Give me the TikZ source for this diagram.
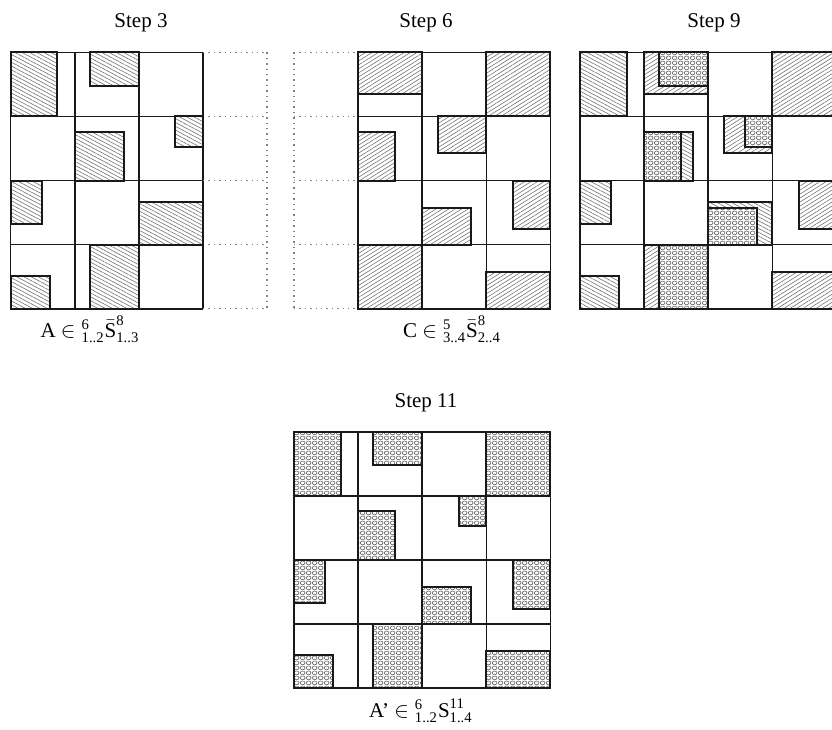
\documentclass[tikz,border=0pt]{standalone}
\usepackage{amsmath}
\usepackage{fontspec}
\setmainfont{Liberation Serif}
\usepackage{tikz}
\usetikzlibrary{patterns,patterns.meta}

% fine mesh used for the overlapping blocks
\tikzdeclarepattern{
  name=mesh,
  type=uncolored,
  bounding box={(0pt,0pt) and (3pt,2.5pt)},
  tile size={(3pt,2.5pt)},
  code={\draw[line width=0.35pt] (1.5pt,1.25pt) ellipse (1.35pt and 1.1pt);}
}

% blocks of A (cols 0..2) and of C (cols 1..3), in cell units
\def\blocksA{0/0/0.73/1, 1.24/0/2/0.525, 1/1.24/1.77/2, 2.57/1/3/1.47,
  0/2/0.49/2.675, 2/2.34/3/3, 0/3.485/0.61/4, 1.24/3/2/4}
\def\blocksC{1/0/2/0.655, 3/0/4/1, 1/1.24/1.58/2, 2.24/1/3/1.57,
  2/2.43/2.76/3, 3.42/2/4/2.76, 1/3/2/4, 3/3.42/4/4}
\def\blocksAC{1.24/0/2/0.525, 1/1.24/1.58/2, 2.57/1/3/1.47,
  2/2.43/2.76/3, 1.24/3/2/4}
\def\blocksAp{0/0/0.73/1, 1.24/0/2/0.525, 2.57/1/3/1.47, 0/2/0.49/2.675,
  0/3.485/0.61/4, 1.24/3/2/4, 3/0/4/1, 1/1.24/1.58/2, 2/2.43/2.76/3,
  3.42/2/4/2.76, 3/3.42/4/4}

\begin{document}
\begin{tikzpicture}[x=0.5pt,y=-0.5pt,font=\fontsize{10.5}{12.6}\selectfont,
  cellline/.style={line width=0.8pt,draw=black!90},
  ghostline/.style={line width=0.7pt,draw=black!50,dotted},
  ablk/.style={preaction={fill=white},draw=black!90,line width=1pt,
    pattern={Lines[angle=-28,distance=1.7pt,line width=0.3pt]},pattern color=black!55},
  cblk/.style={preaction={fill=white},draw=black!90,line width=1pt,
    pattern={Lines[angle=32,distance=1.7pt,line width=0.3pt]},pattern color=black!55},
  mblk/.style={preaction={fill=white},draw=black!90,line width=1pt,
    pattern=mesh,pattern color=black!60},
  panel/.style={x=32.05pt,y=-32.05pt}]

\useasboundingbox (0,0) rectangle (832,730);

% Step 3
\node (s3) at (141,23) {Step 3};
\begin{scope}[shift={(10.7,52.3)},panel]
  \foreach \i in {0,...,3} \draw[cellline] (\i,0) -- (\i,4);
  \foreach \j in {0,...,4} \draw[cellline] (0,\j) -- (3,\j);
  \foreach \j in {0,...,4} \draw[ghostline] (3,\j) -- (4,\j);
  \draw[ghostline] (4,0) -- (4,4);
  \foreach \xa/\ya/\xb/\yb in \blocksA \draw[ablk] (\xa,\ya) rectangle (\xb,\yb);
\end{scope}
\node (la) at (90,329) {A $\in{}^{\text{6}}_{\text{1..2}}\bar{\text{S}}^{\text{8}}_{\text{1..3}}$};

% Step 6
\node (s6) at (426,23) {Step 6};
\begin{scope}[shift={(294,52.3)},panel]
  \foreach \i in {1,...,4} \draw[cellline] (\i,0) -- (\i,4);
  \foreach \j in {0,...,4} \draw[cellline] (1,\j) -- (4,\j);
  \foreach \j in {0,...,4} \draw[ghostline] (0,\j) -- (1,\j);
  \draw[ghostline] (0,0) -- (0,4);
  \foreach \xa/\ya/\xb/\yb in \blocksC \draw[cblk] (\xa,\ya) rectangle (\xb,\yb);
\end{scope}
\node (lc) at (452,329) {C $\in{}^{\text{5}}_{\text{3..4}}\bar{\text{S}}^{\text{8}}_{\text{2..4}}$};

% Step 9
\node (s9) at (714,23) {Step 9};
\begin{scope}[shift={(580,52.3)},panel]
  \foreach \i in {0,...,4} \draw[cellline] (\i,0) -- (\i,4);
  \foreach \j in {0,...,4} \draw[cellline] (0,\j) -- (4,\j);
  \foreach \xa/\ya/\xb/\yb in \blocksA \draw[ablk] (\xa,\ya) rectangle (\xb,\yb);
  \foreach \xa/\ya/\xb/\yb in \blocksC \draw[cblk] (\xa,\ya) rectangle (\xb,\yb);
  \foreach \xa/\ya/\xb/\yb in \blocksAC \draw[mblk] (\xa,\ya) rectangle (\xb,\yb);
\end{scope}

% Step 11
\node (s11) at (426,403) {Step 11};
\begin{scope}[shift={(294,431.7)},panel]
  \foreach \i in {0,...,4} \draw[cellline] (\i,0) -- (\i,4);
  \foreach \j in {0,...,4} \draw[cellline] (0,\j) -- (4,\j);
  \foreach \xa/\ya/\xb/\yb in \blocksAp \draw[mblk] (\xa,\ya) rectangle (\xb,\yb);
\end{scope}
\node (lap) at (421,711) {A’ $\in{}^{\text{6}}_{\text{1..2}}\text{S}^{\text{11}}_{\text{1..4}}$};

\end{tikzpicture}
\end{document}
